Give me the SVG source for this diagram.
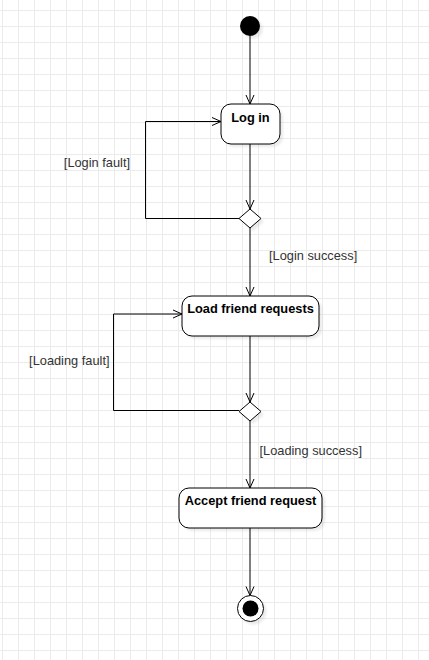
<svg xmlns="http://www.w3.org/2000/svg" width="429" height="660" viewBox="0 0 429 660">
  <defs>
    <pattern id="grid" x="2" y="10" width="16" height="16" patternUnits="userSpaceOnUse">
      <path d="M0.5,0 V16 M0,0.5 H16" fill="none" stroke="#ebebeb" stroke-width="1"/>
    </pattern>
    <marker id="arrow" viewBox="0 -6 11 12" refX="10" refY="0" markerWidth="11" markerHeight="12" markerUnits="userSpaceOnUse" orient="auto">
      <path d="M1,-4 L10,0 L1,4" fill="none" stroke="#000" stroke-width="1"/>
    </marker>
    <filter id="sh" x="-20%" y="-20%" width="150%" height="150%">
      <feGaussianBlur stdDeviation="0.8"/>
    </filter>
  </defs>
  <style>
    .node { fill: #fff; stroke: #000; stroke-width: 1; }
    .shadow { fill: #000; fill-opacity: 0.08; filter: url(#sh); }
    .edge { fill: none; stroke: #000; stroke-width: 1; marker-end: url(#arrow); }
    .title { font-family: "Liberation Sans", Arial, sans-serif; font-size: 12.8px; font-weight: bold; fill: #000; text-anchor: middle; }
    .label { font-family: "Liberation Sans", Arial, sans-serif; font-size: 12.8px; fill: #333; }
  </style>
  <rect width="429" height="660" fill="#fff"/>
  <rect width="429" height="660" fill="url(#grid)"/>

  <g id="connectors">
    <line class="edge" x1="250" y1="36" x2="250" y2="104"/>
    <line class="edge" x1="250" y1="144" x2="250" y2="209"/>
    <polyline class="edge" points="239,218.5 145.5,218.5 145.5,121.5 221,121.5"/>
    <line class="edge" x1="250" y1="228" x2="250" y2="296"/>
    <text class="label" x="269" y="259.5">[Login success]</text>
    <text class="label" x="130" y="167" text-anchor="end">[Login fault]</text>
    <line class="edge" x1="250" y1="336" x2="250" y2="402"/>
    <polyline class="edge" points="239,410.5 113.5,410.5 113.5,314 182,314"/>
    <text class="label" x="109.5" y="365" text-anchor="end">[Loading fault]</text>
    <line class="edge" x1="250" y1="421" x2="250" y2="488"/>
    <text class="label" x="259.5" y="455">[Loading success]</text>
    <line class="edge" x1="250" y1="528" x2="250" y2="595.5"/>
  </g>

  <g id="start">
    <circle class="shadow" cx="253" cy="29" r="10"/>
    <circle cx="250" cy="26" r="10" fill="#000"/>
  </g>

  <g id="login">
    <rect class="shadow" x="224" y="107" width="59" height="40" rx="10"/>
    <rect class="node" x="221" y="104" width="59" height="40" rx="10"/>
    <text class="title" x="250.5" y="121.5">Log in</text>
  </g>

  <g id="decision1">
    <polygon class="shadow" points="253,212 264,221.5 253,231 242,221.5"/>
    <polygon class="node" points="250,209 261,218.5 250,228 239,218.5"/>
  </g>

  <g id="load">
    <rect class="shadow" x="185" y="299" width="137" height="40" rx="10"/>
    <rect class="node" x="182" y="296" width="137" height="40" rx="10"/>
    <text class="title" x="250.5" y="312.7">Load friend requests</text>
  </g>

  <g id="decision2">
    <polygon class="shadow" points="253,405 264,414.5 253,424 242,414.5"/>
    <polygon class="node" points="250,402 261,411.5 250,421 239,411.5"/>
  </g>

  <g id="accept">
    <rect class="shadow" x="182" y="491" width="143" height="40" rx="10"/>
    <rect class="node" x="179" y="488" width="143" height="40" rx="10"/>
    <text class="title" x="250.5" y="505">Accept friend request</text>
  </g>

  <g id="end">
    <circle class="shadow" cx="253.5" cy="611.5" r="13"/>
    <circle class="node" cx="250.5" cy="608.5" r="13"/>
    <circle cx="250.5" cy="608.5" r="8" fill="#000"/>
  </g>
</svg>
